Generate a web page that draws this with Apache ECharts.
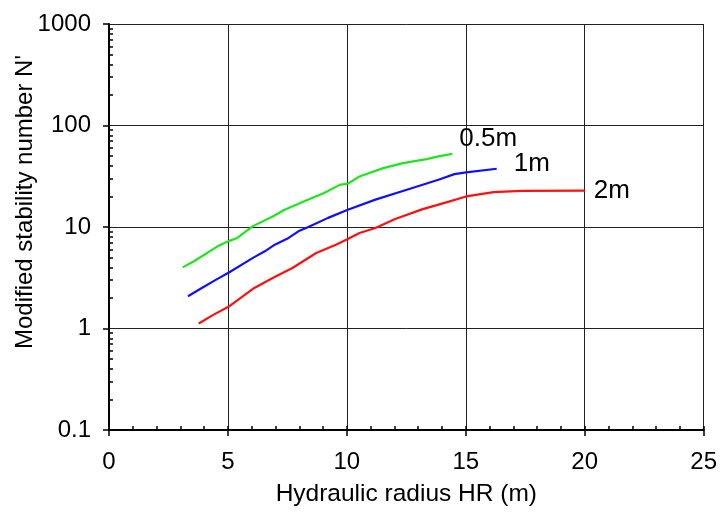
<!DOCTYPE html>
<html>
<head>
<meta charset="utf-8">
<script src="https://cdn.jsdelivr.net/npm/echarts@6/dist/echarts.min.js"></script>
<style>html,body{margin:0;padding:0;background:#fff}#c{width:720px;height:512px}</style>
</head>
<body>
<div id="c"></div>
<script>
const seriesNames = ['0.5m', '1m', '2m'];
const greenX = [3.1, 3.57, 4.56, 5.06, 5.39, 6.05, 6.88, 7.38, 8.21, 9.04, 9.7, 10.04, 10.53, 11.53, 12.36, 13.35, 13.85, 14.43];
const greenY = [4.0, 4.6, 6.45, 7.3, 7.8, 10.2, 12.7, 14.8, 17.9, 21.6, 26, 26.7, 31.5, 38, 42.6, 46.7, 49.6, 52.6];
const blueX = [3.32, 3.9, 4.56, 5.06, 6.05, 6.55, 6.97, 7.55, 7.96, 8.38, 9.21, 10.04, 11.2, 12.52, 13.85, 14.52, 15.01, 16.3];
const blueY = [2.08, 2.51, 3.08, 3.58, 4.96, 5.76, 6.7, 7.8, 9.06, 10, 12.3, 14.8, 18.6, 23.3, 29.2, 33.2, 34.5, 37.5];
const redX = [3.77, 4.4, 5.06, 6.05, 6.88, 7.71, 8.71, 9.54, 10.04, 10.53, 11.2, 12.03, 13.19, 14.18, 15.01, 16.17, 17.34, 20.0];
const redY = [1.12, 1.37, 1.66, 2.46, 3.15, 3.95, 5.55, 6.7, 7.62, 8.73, 9.78, 12.0, 15.0, 17.5, 20.0, 22.1, 22.7, 22.8];
const yMinorTicks = [0.2,0.3,0.4,0.5,0.6,0.7,0.8,0.9,2,3,4,5,6,7,8,9,20,30,40,50,60,70,80,90,200,300,400,500,600,700,800,900];
const xTitle = 'Hydraulic radius HR (m)';
const yTitle = "Modified stability number N'";

const zip = (xs, ys) => xs.map((x, i) => [x, ys[i]]);
const FONT = 'Liberation Sans, Arial, sans-serif';

const chart = echarts.init(document.getElementById('c'));
const baseX = {
  type: 'value', min: 0, max: 25, gridIndex: 0, position: 'bottom'
};
const baseY = {
  type: 'log', logBase: 10, min: 0.1, max: 1000, gridIndex: 0, position: 'left'
};
chart.setOption({
  animation: false,
  grid: { left: 109, right: 10, top: 24, bottom: 81, containLabel: false },
  xAxis: [
    Object.assign({}, baseX, {
      interval: 5,
      name: xTitle, nameLocation: 'middle', nameGap: 52,
      nameTextStyle: { fontFamily: FONT, fontSize: 24.5, color: '#000' },
      axisLine: { show: true, onZero: false, lineStyle: { color: '#000', width: 2 } },
      axisTick: { show: true, inside: false, length: 6, lineStyle: { color: '#000', width: 1.5 } },
      axisLabel: { fontFamily: FONT, fontSize: 24, color: '#000', margin: 20 },
      splitLine: { show: true, lineStyle: { color: '#222', width: 1 } }
    }),
    Object.assign({}, baseX, {
      interval: 1,
      axisLine: { show: false, onZero: false },
      axisTick: { show: true, inside: true, length: 4, lineStyle: { color: '#000', width: 1.5 } },
      axisLabel: { show: false },
      splitLine: { show: false }
    })
  ],
  yAxis: [
    Object.assign({}, baseY, {
      axisLine: { show: true, onZero: false, lineStyle: { color: '#000', width: 2 } },
      axisTick: { show: true, inside: false, length: 6, lineStyle: { color: '#000', width: 1.5 } },
      axisLabel: { fontFamily: FONT, fontSize: 24, color: '#000', margin: 18,
        formatter: v => String(v) },
      splitLine: { show: true, lineStyle: { color: '#222', width: 1 } }
    }),
    Object.assign({}, baseY, {
      axisLine: { show: false, onZero: false },
      axisTick: { show: true, inside: true, length: 4, customValues: yMinorTicks, lineStyle: { color: '#000', width: 1.5 } },
      axisLabel: { show: false },
      splitLine: { show: false }
    })
  ],
  graphic: [{
    type: 'text',
    rotation: Math.PI / 2,
    x: 25, y: 202,
    style: { text: yTitle, fontFamily: FONT, fontSize: 24, fill: '#000', align: 'center', verticalAlign: 'middle' }
  }],
  series: [
    { name: seriesNames[0], type: 'line', data: zip(greenX, greenY), showSymbol: false, smooth: false,
      lineStyle: { color: '#1ee61e', width: 2.2 },
      endLabel: { show: true, formatter: seriesNames[0], offset: [-1, -15], fontFamily: FONT, fontSize: 26, color: '#000' } },
    { name: seriesNames[1], type: 'line', data: zip(blueX, blueY), showSymbol: false,
      lineStyle: { color: '#1010ff', width: 2.2 },
      endLabel: { show: true, formatter: seriesNames[1], offset: [9, -5], fontFamily: FONT, fontSize: 26, color: '#000' } },
    { name: seriesNames[2], type: 'line', data: zip(redX, redY), showSymbol: false,
      lineStyle: { color: '#ff1010', width: 2.2 },
      endLabel: { show: true, formatter: seriesNames[2], offset: [1, 0], fontFamily: FONT, fontSize: 26, color: '#000' } }
  ]
});
</script>
</body>
</html>
